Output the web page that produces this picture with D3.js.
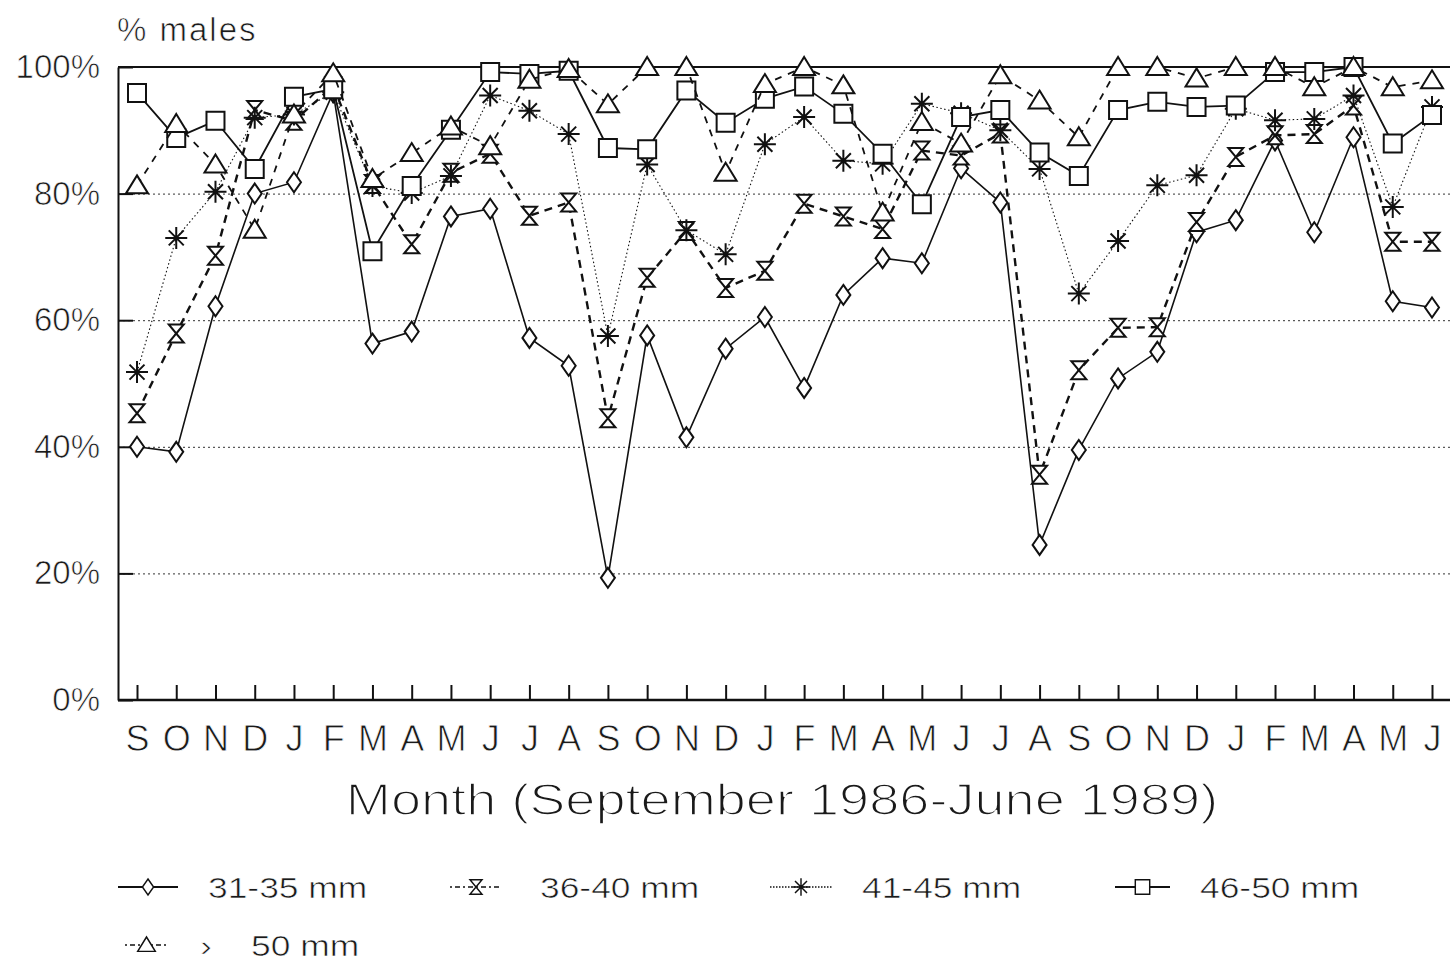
<!DOCTYPE html>
<html>
<head>
<meta charset="utf-8">
<script src="https://cdn.jsdelivr.net/npm/d3@7"></script>
<style>
  body { margin: 0; background: #fff; }
  svg { display: block; }
  text { font-family: "Liberation Sans", Arial, sans-serif; fill: #1a1a1a; }
  .thin { stroke: #fff; stroke-linejoin: round; }
</style>
</head>
<body>
<svg width="1450" height="962"></svg>
<script>
const svg = d3.select('svg');

// months Sep 1986 - Jun 1989
const months = ['S','O','N','D','J','F','M','A','M','J','J','A',
                'S','O','N','D','J','F','M','A','M','J','J','A',
                'S','O','N','D','J','F','M','A','M','J'];

const yTicks = [0, 20, 40, 60, 80, 100];

// % males per size class
const s31_35 = [40, 39.2, 62.2, 80, 81.8, 96, 56.3, 58.2, 76.4, 77.6, 57.2, 52.8,
                19.3, 57.6, 41.5, 55.5, 60.5, 49.3, 64, 69.8, 69, 84, 78.6, 24.5,
                39.5, 50.8, 55, 73.9, 75.8, 88.4, 73.9, 88.9, 63, 62];
const s36_40 = [45.3, 57.9, 70.2, 93.2, 91.5, 97, 81.5, 72, 83.3, 86.3, 76.5, 78.6,
                44.5, 66.7, 74.1, 65.1, 67.8, 78.4, 76.4, 74.4, 86.8, 86, 89.5, 35.6,
                52.1, 58.8, 58.9, 75.5, 85.8, 89.2, 89.4, 93.9, 72.4, 72.4];
const s41_45 = [51.8, 73, 80.3, 92, 92.5, 96, 81.2, 80.1, 82.8, 95.5, 93.1, 89.4,
                57.5, 84.6, 74.2, 70.4, 87.8, 92.1, 85.2, 84.7, 94.2, 92.7, 90, 83.9,
                64.2, 72.5, 81.3, 82.9, 93.4, 91.6, 91.8, 95.5, 77.9, 93.7];
const s46_50 = [95.9, 88.8, 91.5, 83.9, 95.3, 96.5, 70.9, 81.2, 90.1, 99.2, 98.9, 99.4,
                87.2, 87, 96.3, 91.2, 95, 96.9, 92.6, 86.3, 78.3, 92.1, 93.2, 86.5,
                82.8, 93.2, 94.5, 93.7, 93.9, 99.2, 99.2, 100, 87.9, 92.4];
const s50up  = [81.3, 91, 84.6, 74.3, 92.5, 99, 82.3, 86.4, 90.6, 87.5, 98, 99.7,
                94.1, 100, 100, 83.3, 97.3, 100, 97.1, 77, 91.3, 87.9, 98.7, 94.7,
                88.9, 100, 100, 98.2, 100, 100, 96.8, 100, 96.8, 97.9];

// marker shapes centred on 0,0
const shapes = {
  diamond: 'M0,-10L7,0L0,10L-7,0Z',
  hourglass: 'M-7.5,-9L7.5,-9L-7.5,9L7.5,9Z',
  asterisk: 'M0,-11V11M-11,0H11M-7.5,-7.5L7.5,7.5M-7.5,7.5L7.5,-7.5',
  square: 'M-9,-9H9V9H-9Z',
  triangle: 'M0,-10L11,8H-11Z'
};

const series = [
  { name: '31-35 mm', values: s31_35, shape: 'diamond',   dash: null,  width: 1.6, leg: null },
  { name: '36-40 mm', values: s36_40, shape: 'hourglass', dash: '8,6', width: 2.4, leg: '2,3,5,3' },
  { name: '41-45 mm', values: s41_45, shape: 'asterisk',  dash: '1.5,2.5', width: 1.1, leg: '1.5,1.5' },
  { name: '46-50 mm', values: s46_50, shape: 'square',    dash: null,  width: 1.8, leg: null },
  { name: '50 mm',    values: s50up,  shape: 'triangle',  dash: '7,7', width: 1.8, leg: '2,3,5,3' }
];

const plotL = 118, plotR = 1450, plotT = 67, plotB = 700;

const x = d3.scaleLinear().domain([0, months.length - 1]).range([137, 1432]);
const y = d3.scaleLinear().domain([0, 100]).range([plotB, plotT]);

// dotted gridlines
svg.append('g')
  .attr('transform', `translate(${plotL},0)`)
  .call(d3.axisLeft(y).tickValues([20, 40, 60, 80]).tickSize(-(plotR - plotL)).tickFormat(''))
  .call(g => g.select('.domain').remove())
  .call(g => g.selectAll('line').attr('stroke', '#333').attr('stroke-width', 1)
    .attr('stroke-dasharray', '2,3'));

// solid line at 100%
svg.append('line')
  .attr('x1', plotL).attr('x2', plotR)
  .attr('y1', y(100)).attr('y2', y(100))
  .attr('stroke', '#111').attr('stroke-width', 2);

// y axis
svg.append('g')
  .attr('transform', `translate(${plotL},0)`)
  .call(d3.axisLeft(y).tickValues(yTicks).tickSizeInner(-15).tickSizeOuter(0)
    .tickPadding(18).tickFormat(d => d + '%'))
  .call(g => g.select('.domain').attr('stroke', '#111').attr('stroke-width', 2))
  .call(g => g.selectAll('line').attr('stroke', '#111').attr('stroke-width', 2))
  .call(g => g.selectAll('text').style('font-size', '33px').attr('fill', '#1a1a1a')
    .attr('class', 'thin').attr('stroke-width', 0.7));

// x axis
svg.append('g')
  .attr('transform', `translate(0,${plotB})`)
  .call(d3.axisBottom(x).tickValues(d3.range(months.length)).tickSizeInner(-15)
    .tickSizeOuter(0).tickPadding(25).tickFormat(i => months[i]))
  .call(g => g.select('.domain').attr('d', `M${plotL},0H${plotR}`)
    .attr('stroke', '#111').attr('stroke-width', 2.5))
  .call(g => g.selectAll('line').attr('stroke', '#111').attr('stroke-width', 2))
  .call(g => g.selectAll('text').style('font-size', '36px').attr('fill', '#1a1a1a')
    .attr('class', 'thin').attr('stroke-width', 0.8));

svg.append('text')
  .attr('class', 'thin')
  .attr('stroke-width', 0.7)
  .attr('x', 117).attr('y', 41)
  .style('font-size', '33px')
  .style('letter-spacing', '2px')
  .text('% males');

svg.append('text')
  .attr('class', 'thin')
  .attr('stroke-width', 1.6)
  .attr('transform', 'translate(782,815) scale(1.23,1)')
  .attr('text-anchor', 'middle')
  .style('font-size', '44px')
  .text('Month (September 1986-June 1989)');

const line = d3.line()
  .x((d, i) => x(i))
  .y(d => y(d));

const groups = svg.selectAll('g.series')
  .data(series)
  .enter()
    .append('g')
    .attr('class', 'series');

groups.append('path')
  .attr('d', d => line(d.values))
  .attr('fill', 'none')
  .attr('stroke', '#111')
  .attr('stroke-width', d => d.width)
  .attr('stroke-dasharray', d => d.dash);

groups.selectAll('path.mark')
  .data(d => d.values.map((v, i) => ({ v, i, shape: d.shape })))
  .enter()
    .append('path')
    .attr('class', 'mark')
    .attr('transform', d => `translate(${x(d.i)},${y(d.v)})`)
    .attr('d', d => shapes[d.shape])
    .attr('fill', d => d.shape === 'asterisk' ? 'none' : '#fff')
    .attr('stroke', '#111')
    .attr('stroke-width', 2);

// legend
const legendItems = [
  { s: series[0], x0: 118, x1: 178, tx: 208, ty: 887, label: '31-35 mm' },
  { s: series[1], x0: 450, x1: 502, tx: 540, ty: 887, label: '36-40 mm' },
  { s: series[2], x0: 770, x1: 832, tx: 862, ty: 887, label: '41-45 mm' },
  { s: series[3], x0: 1115, x1: 1170, tx: 1200, ty: 887, label: '46-50 mm' },
  { s: series[4], x0: 125, x1: 168, tx: 200, ty: 945, label: '›    50 mm' }
];

const lg = svg.selectAll('g.legend')
  .data(legendItems)
  .enter()
    .append('g')
    .attr('class', 'legend');

lg.append('line')
  .attr('x1', d => d.x0).attr('x2', d => d.x1)
  .attr('y1', d => d.ty).attr('y2', d => d.ty)
  .attr('stroke', '#111')
  .attr('stroke-width', d => d.s.leg ? 1.5 : 2)
  .attr('stroke-dasharray', d => d.s.leg);

lg.append('path')
  .attr('transform', d => `translate(${(d.x0 + d.x1) / 2},${d.ty}) scale(0.8)`)
  .attr('d', d => shapes[d.s.shape])
  .attr('fill', d => d.s.shape === 'asterisk' ? 'none' : '#fff')
  .attr('stroke', '#111')
  .attr('stroke-width', 1.8);

lg.append('text')
  .attr('class', 'thin')
  .attr('stroke-width', 0.6)
  .attr('transform', d => `translate(${d.tx},${d.ty + 11}) scale(1.18,1)`)
  .style('font-size', '30px')
  .style('white-space', 'pre')
  .text(d => d.label);
</script>
</body>
</html>
